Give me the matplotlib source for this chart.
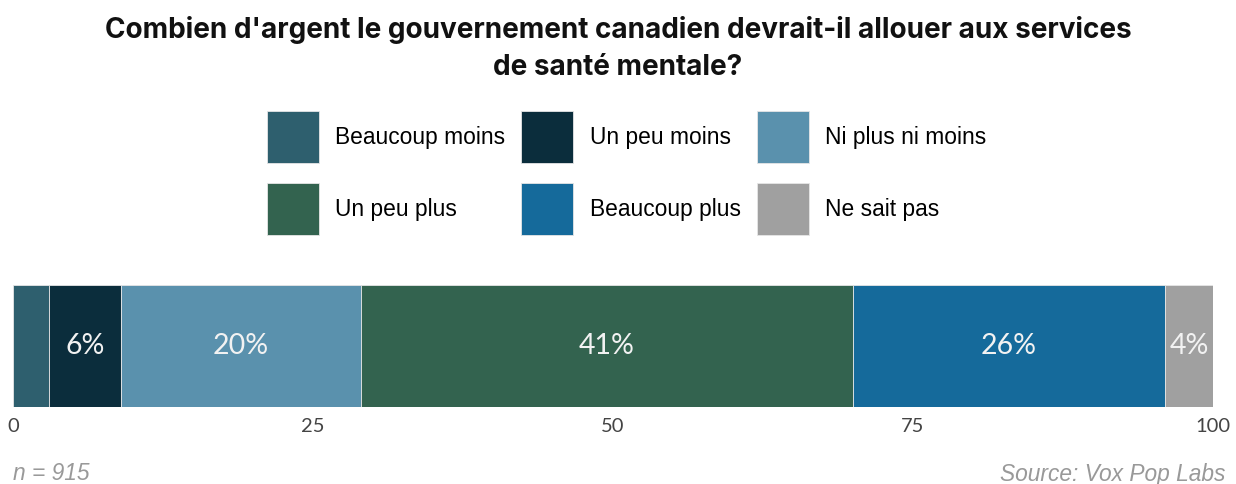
import matplotlib.pyplot as plt

categories = ["Beaucoup moins", "Un peu moins", "Ni plus ni moins",
              "Un peu plus", "Beaucoup plus", "Ne sait pas"]
values = [3, 6, 20, 41, 26, 4]
colors = ["#2e5f6e", "#0b2d3c", "#5a91ad", "#33634f", "#156a9b", "#a0a0a0"]
ticks = [0, 25, 50, 75, 100]
title = "Combien d'argent le gouvernement canadien devrait-il allouer aux services\nde santé mentale?"
sample_note = "n = 915"
source_note = "Source: Vox Pop Labs"

W, H = 1236, 484
fig = plt.figure(figsize=(W / 100, H / 100), dpi=100)
ax = fig.add_axes([13 / W, (H - 407) / H, 1200 / W, 122 / H])

bars = []
left = 0
for cat, val, col in zip(categories, values, colors):
    b = ax.barh(0, val, left=left, height=1, color=col, label=cat,
                edgecolor="#e6e6e6", linewidth=0.6)
    bars.append(b)
    # small first segment carries no label
    if val >= 4:
        ax.text(left + val / 2, 0, f"{val}%", ha="center", va="center",
                color="#f2f2f2", fontsize=20.5, family="Lato")
    left += val

ax.set_xlim(0, 100)
ax.set_ylim(-0.5, 0.5)
ax.set_yticks([])
ax.set_xticks(ticks)
ax.set_xticklabels([str(t) for t in ticks], family="Lato", fontsize=14.5, color="#444444")
ax.tick_params(axis="x", length=0, pad=8)
for s in ax.spines.values():
    s.set_visible(False)

# legend filled row by row, square swatches
order = [0, 3, 1, 4, 2, 5]
handles = [bars[i] for i in order]
labels = [categories[i] for i in order]
fs = 16.4
fig.legend(handles, labels, ncol=3, loc="upper left",
           bbox_to_anchor=(267 / W, 1 - 111 / H), frameon=False,
           prop={"family": "Liberation Sans", "size": fs},
           handlelength=2.28, handleheight=3.136, handletextpad=0.72,
           labelspacing=0.88, columnspacing=0.7, borderpad=0, borderaxespad=0)

fig.text(0.5, 1 - 48.5 / H, title, ha="center", va="center", fontsize=20.1,
         fontweight="bold", family="Inter", color="#111111", linespacing=1.45)

fig.text(13 / W, 1 - 474 / H, sample_note, ha="left", va="center",
         fontsize=16.4, style="italic", color="#999999", family="Liberation Sans")
fig.text(1225 / W, 1 - 474 / H, source_note, ha="right", va="center",
         fontsize=16.4, style="italic", color="#999999", family="Liberation Sans")

fig.savefig("out.png", dpi=100)
